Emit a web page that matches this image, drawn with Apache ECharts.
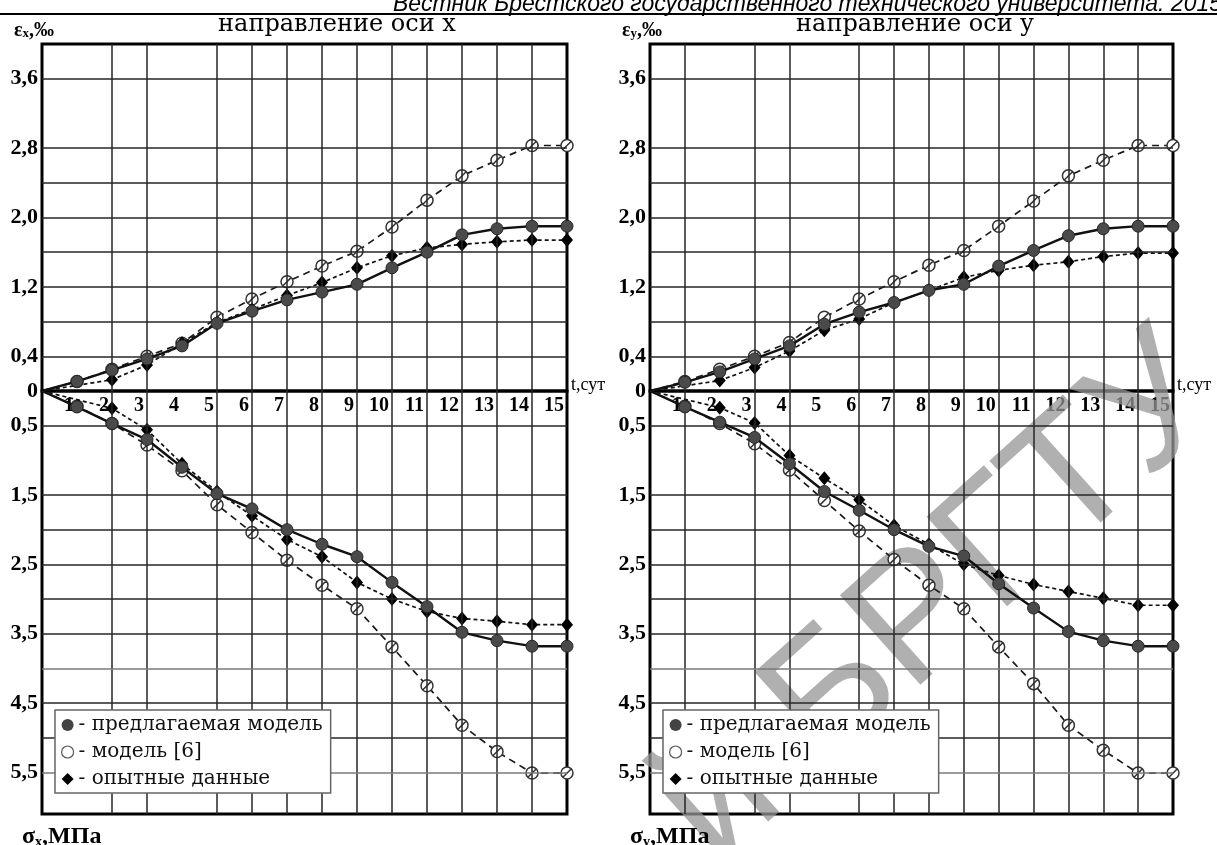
<!DOCTYPE html>
<html><head><meta charset="utf-8">
<script src="https://cdn.jsdelivr.net/npm/echarts@6/dist/echarts.min.js"></script>
<style>html,body{margin:0;padding:0;background:#fff}#c{width:1217px;height:845px}</style>
</head><body><div id="c"></div>
<script>
// ---------- data ----------
const days = [0,1,2,3,4,5,6,7,8,9,10,11,12,13,14,15];
const seriesNames = ['предлагаемая модель', 'модель [6]', 'опытные данные'];
const titles = ['направление оси x', 'направление оси y'];
// x direction: strain (upper, ‰) and stress (lower, MPa)
const epsXModel  = [0,0.11,0.24,0.37,0.52,0.78,0.92,1.05,1.14,1.23,1.42,1.60,1.80,1.87,1.90,1.90];
const epsXModel6 = [0,0.11,0.25,0.40,0.55,0.85,1.06,1.26,1.44,1.61,1.89,2.20,2.48,2.66,2.83,2.83];
const epsXExp    = [0,null,0.13,0.30,0.55,0.79,0.94,1.10,1.25,1.42,1.56,1.65,1.69,1.72,1.74,1.74];
const sigXModel  = [0,0.23,0.47,0.70,1.10,1.48,1.70,2.00,2.21,2.39,2.76,3.11,3.48,3.60,3.68,3.68];
const sigXModel6 = [0,0.22,0.47,0.78,1.15,1.64,2.04,2.44,2.80,3.14,3.69,4.25,4.82,5.20,5.51,5.51];
const sigXExp    = [0,null,0.25,0.56,1.05,1.45,1.80,2.14,2.39,2.76,3.00,3.18,3.28,3.32,3.37,3.37];
// y direction
const epsYModel  = [0,0.10,0.22,0.37,0.52,0.77,0.91,1.02,1.16,1.23,1.44,1.62,1.79,1.87,1.90,1.90];
const epsYModel6 = [0,0.11,0.25,0.40,0.56,0.85,1.06,1.26,1.45,1.62,1.90,2.19,2.48,2.66,2.83,2.83];
const epsYExp    = [0,null,0.12,0.27,0.46,0.70,0.83,1.02,1.16,1.31,1.39,1.45,1.49,1.55,1.59,1.59];
const sigYModel  = [0,0.23,0.45,0.67,1.05,1.45,1.72,2.00,2.24,2.38,2.78,3.13,3.47,3.60,3.68,3.68];
const sigYModel6 = [0,0.22,0.47,0.76,1.14,1.58,2.02,2.43,2.80,3.14,3.69,4.22,4.82,5.18,5.51,5.51];
const sigYExp    = [0,null,0.24,0.46,0.93,1.26,1.57,1.94,2.21,2.50,2.66,2.79,2.89,2.99,3.09,3.09];
// axis ranges / steps
const epsMax = 4.0, epsStep = 0.4;
const sigMax = 6.1, sigStep = 0.5;
const dayMax = 15;
// grid lines that are visible in the scanned figure
const gridDaysX = [2,3,5,6,7,8,9,10,11,12,13,14];
const gridDaysY = [1,3,4,6,7,8,9,10,11,12,13,14];
const gridEps = [0.4,0.8,1.2,1.6,2.0,2.4,2.8,3.6];
const gridSig = [0.5,1.5,2.0,2.5,3.0,3.5,4.0,4.5,5.0,5.5];
const graySig = [4.0,5.5];
const watermark = 'й БРГТУ';

// ---------- layout ----------
const SERIF = 'Liberation Serif';
const WIDE = 'DejaVu Serif';
const TOP = 44, ZERO = 391, BOTTOM = 814;
const panels = [
  {left: 42, width: 525, titleX: 337, eps: [epsXModel, epsXModel6, epsXExp], sig: [sigXModel, sigXModel6, sigXExp], gridDays: gridDaysX, sub: 'x'},
  {left: 650, width: 523, titleX: 915, eps: [epsYModel, epsYModel6, epsYExp], sig: [sigYModel, sigYModel6, sigYExp], gridDays: gridDaysY, sub: 'y'}
];

const LINE = '#262626', GRAY = '#7a7a7a';

const slashCircle = 'path://M0,50 A50,50 0 1 1 100,50 A50,50 0 1 1 0,50 Z M18,82 L82,18';
const styles = [
  {symbol: 'circle', symbolSize: 12, itemStyle: {color: '#4a4a4a', borderColor: '#262626', borderWidth: 1}, lineStyle: {color: '#111', width: 2.4, type: 'solid'}, z: 5},
  {symbol: slashCircle, symbolSize: 12, itemStyle: {color: '#fff', borderColor: '#333', borderWidth: 1.5}, lineStyle: {color: '#1a1a1a', width: 1.7, type: [7, 5]}, z: 3},
  {symbol: 'diamond', symbolSize: [12, 14], itemStyle: {color: '#000'}, lineStyle: {color: '#111', width: 1.7, type: [4, 3]}, z: 4}
];

const fmtComma = v => v.toFixed(1).replace('.', ',');
const epsLabel = v => {
  if (Math.abs(v) < 1e-9) return '0';
  const k = v / epsStep, r = Math.round(k);
  return (Math.abs(k - r) < 1e-6 && r % 2 === 1) ? fmtComma(v) : '';
};
const sigLabel = v => {
  const k = v / sigStep, r = Math.round(k);
  return (Math.abs(k - r) < 1e-6 && r % 2 === 1) ? fmtComma(v) : '';
};

const grid = [], xAxis = [], yAxis = [], series = [], legend = [], graphic = [];
const lineOf = (c, w) => ({color: c, width: w, type: 'solid'});
const yLab = f => ({fontFamily: SERIF, fontWeight: 'bold', fontSize: 22, color: '#000', margin: 4, formatter: f});

panels.forEach((p, pi) => {
  const gU = grid.length;
  grid.push({left: p.left, width: p.width, top: TOP, height: ZERO - TOP, show: true, borderColor: '#000', borderWidth: 3, backgroundColor: 'transparent'});
  grid.push({left: p.left, width: p.width, top: ZERO, height: BOTTOM - ZERO, show: true, borderColor: '#000', borderWidth: 3, backgroundColor: 'transparent'});
  xAxis.push({gridIndex: gU, type: 'value', min: 0, max: dayMax, interval: 1, position: 'bottom',
    axisLine: {show: false}, axisTick: {show: false}, splitLine: {show: false},
    axisLabel: {fontFamily: SERIF, fontWeight: 'bold', fontSize: 20, color: '#000', align: 'right', margin: 5, padding: [0, 3, 0, 0],
      formatter: v => v === 0 ? '' : String(v)}});
  xAxis.push({gridIndex: gU + 1, type: 'value', min: 0, max: dayMax, interval: 1, position: 'top',
    axisLine: {show: false}, axisTick: {show: false}, axisLabel: {show: false}, splitLine: {show: false}});
  yAxis.push({gridIndex: gU, type: 'value', min: 0, max: epsMax, interval: epsStep,
    axisLine: {show: false}, axisTick: {show: false}, splitLine: {show: false}, axisLabel: yLab(epsLabel)});
  yAxis.push({gridIndex: gU + 1, type: 'value', min: 0, max: sigMax, interval: sigStep, inverse: true,
    axisLine: {show: false}, axisTick: {show: false}, splitLine: {show: false}, axisLabel: yLab(sigLabel)});

  // grid lines (through the axes, as mark lines)
  [gU, gU + 1].forEach((gi, k) => {
    const vals = k === 0 ? gridEps : gridSig;
    const data = p.gridDays.map(d => ({xAxis: d, lineStyle: lineOf(LINE, 1.5)}))
      .concat(vals.map(v => ({yAxis: v, lineStyle: lineOf(k === 1 && graySig.includes(v) ? GRAY : LINE, 1.5)})));
    series.push({type: 'line', xAxisIndex: gi, yAxisIndex: gi, data: [], silent: true, z: 1, animation: false,
      markLine: {silent: true, symbol: ['none', 'none'], label: {show: false}, animation: false, data}});
  });

  const addSeries = (arrs, gi) => {
    arrs.forEach((arr, si) => {
      const st = styles[si];
      series.push({
        name: seriesNames[si], type: 'line', xAxisIndex: gi, yAxisIndex: gi,
        symbol: st.symbol, symbolSize: st.symbolSize, showAllSymbol: true, connectNulls: true,
        itemStyle: st.itemStyle, lineStyle: st.lineStyle, z: st.z, animation: false,
        emphasis: {disabled: true},
        data: days.map((d, i) => arr[i] === null ? [d, null] : (d === 0 ? {value: [d, arr[i]], symbol: 'none'} : [d, arr[i]]))
      });
    });
  };
  addSeries(p.eps, gU);
  addSeries(p.sig, gU + 1);

  legend.push({
    left: p.left + 13, top: 710, orient: 'vertical', selectedMode: false, z: 6,
    backgroundColor: '#fff', borderColor: '#666', borderWidth: 1.5,
    padding: [3, 8, 2, 6], itemGap: 3, itemWidth: 12, itemHeight: 12,
    textStyle: {fontFamily: WIDE, fontSize: 20, color: '#111', lineHeight: 24},
    formatter: n => '- ' + n,
    data: [
      {name: seriesNames[0], icon: 'circle', itemStyle: {color: '#444', borderWidth: 0}},
      {name: seriesNames[1], icon: 'circle', itemStyle: {color: '#fff', borderColor: '#555', borderWidth: 1.2}},
      {name: seriesNames[2], icon: 'diamond', itemStyle: {color: '#000', borderWidth: 0}}
    ]
  });

  graphic.push({type: 'text', x: p.titleX, y: 25, z: 10, style: {text: titles[pi], font: '24px "DejaVu Serif"', fill: '#000', align: 'center', verticalAlign: 'middle'}});
  graphic.push({type: 'text', x: p.left - 28, y: 30, z: 10, style: {
    text: '{a|ε}{b|' + p.sub + '}{a|,‰}', verticalAlign: 'middle',
    rich: {a: {fontFamily: SERIF, fontWeight: 'bold', fontSize: 20, fill: '#000', verticalAlign: 'bottom', lineHeight: 21},
           b: {fontFamily: SERIF, fontWeight: 'bold', fontSize: 13, fill: '#000', verticalAlign: 'bottom', lineHeight: 16}}}});
  graphic.push({type: 'text', x: p.left - 20, y: 837, z: 10, style: {
    text: '{a|σ}{b|' + p.sub + '}{a|,МПа}', verticalAlign: 'middle',
    rich: {a: {fontFamily: SERIF, fontWeight: 'bold', fontSize: 24, fill: '#000', verticalAlign: 'bottom', lineHeight: 24},
           b: {fontFamily: SERIF, fontWeight: 'bold', fontSize: 14, fill: '#000', verticalAlign: 'bottom', lineHeight: 18}}}});
  graphic.push({type: 'text', x: p.left + p.width + 4, y: 385, z: 10, style: {text: 't,сут', font: '18px "Liberation Serif"', fill: '#000', align: 'left', verticalAlign: 'middle'}});
});

// library watermark over the right panel (scan)
graphic.push({type: 'text', x: 940, y: 602, rotation: 42 * Math.PI / 180, z: 1,
  style: {text: watermark, font: '175px "Liberation Sans"', fill: 'rgba(150,150,150,0.75)', align: 'center', verticalAlign: 'middle'}});

// header of the journal page (cut at the top)
graphic.push({type: 'line', z: 10, shape: {x1: 0, y1: 14, x2: 1217, y2: 14}, style: {stroke: '#000', lineWidth: 2}});
graphic.push({type: 'text', x: 1222, y: 16, z: 10, style: {text: 'Вестник Брестского государственного технического университета. 2015', font: 'italic 23px "Liberation Sans"', fill: '#000', align: 'right', verticalAlign: 'bottom'}});

const chart = echarts.init(document.getElementById('c'));
chart.setOption({
  animation: false,
  backgroundColor: '#fff',
  grid, xAxis, yAxis, series, legend, graphic
});
</script></body></html>
